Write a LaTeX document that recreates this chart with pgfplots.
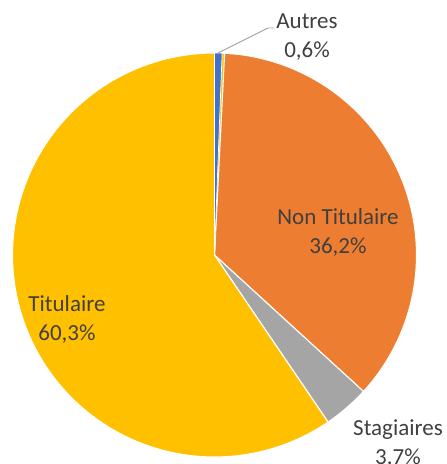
\documentclass[border=0pt]{standalone}
\usepackage{pgfplots}
\pgfplotsset{compat=1.18}
\usepackage{fontspec}
\setmainfont{Carlito}
\definecolor{cAutres}{HTML}{4472C4}
\definecolor{cNon}{HTML}{ED7D31}
\definecolor{cStag}{HTML}{A5A5A5}
\definecolor{cTit}{HTML}{FFC000}
\definecolor{txt}{HTML}{404040}
\definecolor{lead}{HTML}{A6A6A6}
% shares in percent (clockwise from the top)
\def\vAutres{0.6}
\def\vNon{36.2}
\def\vStag{3.7}
\def\vTit{60.3}
\def\cx{214.5}
\def\cy{209}
\def\R{202}
\begin{document}
\begin{tikzpicture}
\pgfmathsetmacro{\aA}{0}
\pgfmathsetmacro{\aB}{\aA+3.6*\vAutres}
\pgfmathsetmacro{\aC}{\aB+3.6*\vNon}
\pgfmathsetmacro{\aD}{\aC+3.6*\vStag}
\pgfmathsetmacro{\aE}{\aD+3.6*\vTit}
\begin{axis}[
  width=447pt, height=464pt, scale only axis,
  xmin=0, xmax=447, ymin=0, ymax=464,
  hide axis, clip=false,
  every axis plot/.append style={draw=white, line width=1.1pt, line join=round},
]
\addplot[fill=cNon, domain=\aB:\aC, samples=120, variable=\t]
  ({\cx+\R*sin(\t)}, {\cy+\R*cos(\t)}) -- (axis cs:\cx,\cy) -- cycle;
\addplot[fill=cStag, domain=\aC:\aD, samples=20, variable=\t]
  ({\cx+\R*sin(\t)}, {\cy+\R*cos(\t)}) -- (axis cs:\cx,\cy) -- cycle;
\addplot[fill=cTit, domain=\aD:\aE, samples=180, variable=\t]
  ({\cx+\R*sin(\t)}, {\cy+\R*cos(\t)}) -- (axis cs:\cx,\cy) -- cycle;
\addplot[fill=cAutres, line width=0.7pt, domain=\aA:\aB, samples=5, variable=\t]
  ({\cx+\R*sin(\t)}, {\cy+\R*cos(\t)}) -- (axis cs:\cx,\cy) -- cycle;
\draw[lead, line width=0.9pt] (axis cs:218,411) -- (axis cs:268,436) -- (axis cs:274,436);
\begin{scope}[every node/.style={text=txt, align=center, font=\fontsize{23}{29}\selectfont, inner sep=0pt}]
\node at (axis cs:307,427) {Autres\\0,6\%};
\node at (axis cs:338,232) {Non Titulaire\\36,2\%};
\node at (axis cs:67,145) {Titulaire\\60,3\%};
\node at (axis cs:398,22) {Stagiaires\\3.7\%};
\end{scope}
\end{axis}
\pgfresetboundingbox
\path (0,0) rectangle (447pt,464pt);
\end{tikzpicture}
\end{document}
